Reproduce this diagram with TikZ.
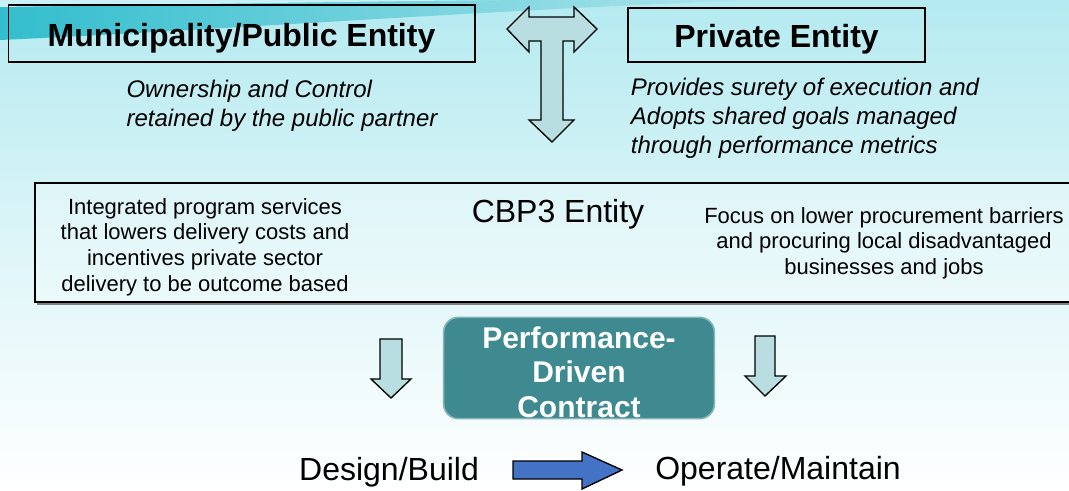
\documentclass[tikz,border=0pt]{standalone}
\usepackage{fontspec}
\setmainfont{Liberation Sans}
\definecolor{sky}{HTML}{B4EAF0}
\definecolor{swoosh}{HTML}{1CB6C8}
\definecolor{arrowfill}{HTML}{B9DEE2}
\definecolor{contract}{HTML}{3E8A90}
\definecolor{contractedge}{HTML}{86B4B7}
\definecolor{flowblue}{HTML}{4472C4}
\begin{document}
\begin{tikzpicture}[x=0.75pt, y=-0.75pt,
	entity/.style = {draw, line width=1pt, text height=19pt, text depth=0pt, font=\fontsize{24}{28}\selectfont\bfseries},
	note/.style = {align=left, font=\fontsize{18}{21.7}\selectfont\itshape},
	boxtext/.style = {align=center, font=\fontsize{16.5}{19.2}\selectfont},
	blockarrow/.style = {draw, line width=1pt, fill=arrowfill, line join=miter}]

% background
\useasboundingbox (0,0) rectangle (1069,490);
\shade[top color=sky, bottom color=white, middle color=sky!45] (0,0) rectangle (1069,490);
\shade[left color=swoosh!90, right color=swoosh!35] (0,0) -- (0,40) .. controls (220,30) and (520,8) .. (760,0) -- cycle;
\fill[sky!70] (0,0) -- (0,7) .. controls (200,4) and (400,1) .. (500,0) -- cycle;

% top row
\node[entity, minimum width=350pt, minimum height=42.75pt] (public) at (241.5,33.5) {Municipality/Public Entity};
\node[entity, minimum width=222.75pt, minimum height=40.5pt] (private) at (776.5,35) {Private Entity};

\node[note] (ownership) at (282,106) {Ownership and Control\\retained by the public partner};
\node[note] (surety) at (805,118) {Provides surety of execution and\\Adopts shared goals managed\\through performance metrics};

% T arrow between the entities
\draw[blockarrow] (507,29) -- (529,7) -- (529,17) -- (574,17) -- (574,7) -- (597,29)
	-- (574,52) -- (574,41) -- (563,41) -- (563,120) -- (574,120) -- (552,142)
	-- (529,120) -- (541,120) -- (541,41) -- (529,41) -- (529,52) -- cycle;

% CBP3 entity
\draw[gray, line width=1.5pt] (37,304) -- (1075,304);
\draw[line width=1pt, fill=white, fill opacity=0.25, draw opacity=1] (35,183) rectangle (1075,302);
\node[boxtext] (services) at (205,247) {Integrated program services\\that lowers delivery costs and\\incentives private sector\\delivery to be outcome based};
\node[font=\fontsize{24}{28}\selectfont] (cbp) at (558,214) {CBP3 Entity};
\node[boxtext] (focus) at (884,243) {Focus on lower procurement barriers\\and procuring local disadvantaged\\businesses and jobs};

% contract
\node[draw=contractedge, line width=1.2pt, fill=contract, rounded corners=11pt,
	minimum width=203pt, minimum height=76pt] (contract) at (579,368) {};
\node[text=white, align=center, inner sep=0pt,
	font=\fontsize{22.5}{26}\selectfont\bfseries] (contractlabel) at (579,372) {Performance-\\Driven\\Contract};

\draw[blockarrow] (380,339) -- (402,339) -- (402,379) -- (411,379) -- (391,398)
	-- (371,379) -- (380,379) -- cycle;
\draw[blockarrow] (755,336) -- (775,336) -- (775,376) -- (786,376) -- (765,396)
	-- (745,376) -- (755,376) -- cycle;

% bottom row
\node[font=\fontsize{24}{28}\selectfont] (design) at (389,472) {Design/Build};
\node[font=\fontsize{24}{28}\selectfont] (operate) at (778,471) {Operate/Maintain};
\draw[blockarrow, fill=flowblue] (513,461) -- (582,461) -- (582,452) -- (622,470)
	-- (582,489) -- (582,479) -- (513,479) -- cycle;
\end{tikzpicture}
\end{document}
